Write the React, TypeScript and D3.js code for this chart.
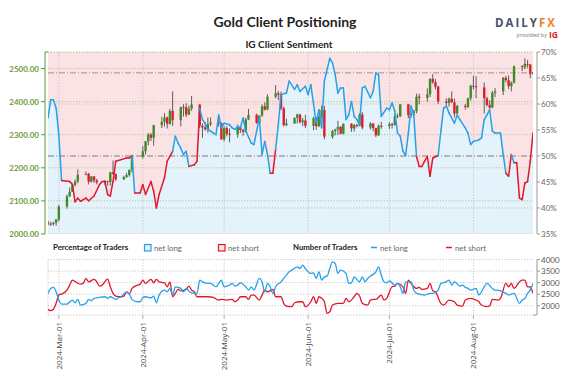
import React from 'react';
import * as d3 from 'd3';

const START = '2024-02-26';
const END = '2024-08-23';

// daily OHLC for spot gold
const candles: [string, number, number, number, number][] = [
  ['2024-02-26', 2035, 2041, 2025, 2031], ['2024-02-27', 2031, 2037, 2025, 2030],
  ['2024-02-28', 2030, 2037, 2025, 2034], ['2024-02-29', 2034, 2045, 2025, 2044],
  ['2024-03-01', 2044, 2088, 2038, 2083], ['2024-03-04', 2083, 2119, 2077, 2114],
  ['2024-03-05', 2114, 2141, 2112, 2128], ['2024-03-06', 2128, 2152, 2127, 2148],
  ['2024-03-07', 2148, 2165, 2144, 2159], ['2024-03-08', 2159, 2195, 2154, 2179],
  ['2024-03-11', 2179, 2189, 2177, 2182], ['2024-03-12', 2182, 2185, 2150, 2158],
  ['2024-03-13', 2158, 2175, 2156, 2174], ['2024-03-14', 2174, 2175, 2155, 2162],
  ['2024-03-15', 2162, 2167, 2150, 2156], ['2024-03-18', 2156, 2163, 2148, 2160],
  ['2024-03-19', 2160, 2161, 2146, 2157], ['2024-03-20', 2157, 2188, 2146, 2186],
  ['2024-03-21', 2186, 2222, 2180, 2181], ['2024-03-22', 2181, 2183, 2160, 2165],
  ['2024-03-25', 2165, 2176, 2164, 2172], ['2024-03-26', 2172, 2185, 2170, 2178],
  ['2024-03-27', 2178, 2195, 2173, 2194], ['2024-03-28', 2194, 2236, 2186, 2233],
  ['2024-04-01', 2233, 2266, 2228, 2250], ['2024-04-02', 2250, 2281, 2240, 2280],
  ['2024-04-03', 2280, 2305, 2268, 2300], ['2024-04-04', 2300, 2305, 2281, 2291],
  ['2024-04-05', 2291, 2330, 2267, 2329], ['2024-04-08', 2329, 2354, 2320, 2339],
  ['2024-04-09', 2339, 2365, 2325, 2352], ['2024-04-10', 2352, 2355, 2319, 2333],
  ['2024-04-11', 2333, 2378, 2330, 2372], ['2024-04-12', 2372, 2431, 2326, 2344],
  ['2024-04-15', 2344, 2385, 2325, 2383], ['2024-04-16', 2383, 2392, 2355, 2383],
  ['2024-04-17', 2383, 2395, 2353, 2361], ['2024-04-18', 2361, 2388, 2359, 2379],
  ['2024-04-19', 2379, 2417, 2372, 2391], ['2024-04-22', 2391, 2392, 2320, 2327],
  ['2024-04-23', 2327, 2335, 2291, 2322], ['2024-04-24', 2322, 2338, 2312, 2316],
  ['2024-04-25', 2316, 2352, 2306, 2332], ['2024-04-26', 2332, 2352, 2326, 2337],
  ['2024-04-29', 2337, 2354, 2324, 2335], ['2024-04-30', 2335, 2337, 2285, 2286],
  ['2024-05-01', 2286, 2326, 2280, 2320], ['2024-05-02', 2320, 2326, 2295, 2303],
  ['2024-05-03', 2303, 2319, 2277, 2301], ['2024-05-06', 2301, 2331, 2291, 2323],
  ['2024-05-07', 2323, 2326, 2305, 2314], ['2024-05-08', 2314, 2318, 2297, 2309],
  ['2024-05-09', 2309, 2351, 2306, 2346], ['2024-05-10', 2346, 2378, 2344, 2360],
  ['2024-05-13', 2360, 2364, 2333, 2336], ['2024-05-14', 2336, 2358, 2340, 2358],
  ['2024-05-15', 2358, 2392, 2354, 2386], ['2024-05-16', 2386, 2398, 2373, 2376],
  ['2024-05-17', 2376, 2422, 2374, 2415], ['2024-05-20', 2415, 2450, 2410, 2425],
  ['2024-05-21', 2425, 2432, 2405, 2421], ['2024-05-22', 2421, 2430, 2374, 2380],
  ['2024-05-23', 2380, 2385, 2325, 2329], ['2024-05-24', 2329, 2348, 2326, 2334],
  ['2024-05-27', 2334, 2352, 2333, 2351], ['2024-05-28', 2351, 2364, 2334, 2361],
  ['2024-05-29', 2361, 2363, 2334, 2338], ['2024-05-30', 2338, 2351, 2326, 2343],
  ['2024-05-31', 2343, 2360, 2320, 2327], ['2024-06-03', 2327, 2354, 2314, 2350],
  ['2024-06-04', 2350, 2353, 2315, 2326], ['2024-06-05', 2326, 2357, 2323, 2355],
  ['2024-06-06', 2355, 2388, 2350, 2375], ['2024-06-07', 2375, 2387, 2286, 2294],
  ['2024-06-10', 2294, 2315, 2288, 2311], ['2024-06-11', 2311, 2318, 2298, 2316],
  ['2024-06-12', 2316, 2342, 2299, 2324], ['2024-06-13', 2324, 2326, 2301, 2303],
  ['2024-06-14', 2303, 2334, 2301, 2333], ['2024-06-17', 2333, 2335, 2309, 2319],
  ['2024-06-18', 2319, 2333, 2310, 2329], ['2024-06-19', 2329, 2333, 2322, 2328],
  ['2024-06-20', 2328, 2365, 2325, 2361], ['2024-06-21', 2361, 2368, 2316, 2322],
  ['2024-06-24', 2322, 2338, 2316, 2334], ['2024-06-25', 2334, 2335, 2310, 2320],
  ['2024-06-26', 2320, 2321, 2293, 2298], ['2024-06-27', 2298, 2331, 2297, 2327],
  ['2024-06-28', 2327, 2339, 2318, 2326], ['2024-07-01', 2326, 2338, 2318, 2332],
  ['2024-07-02', 2332, 2336, 2319, 2330], ['2024-07-03', 2330, 2365, 2327, 2356],
  ['2024-07-04', 2356, 2364, 2350, 2356], ['2024-07-05', 2356, 2392, 2353, 2392],
  ['2024-07-08', 2392, 2393, 2350, 2359], ['2024-07-09', 2359, 2370, 2351, 2364],
  ['2024-07-10', 2364, 2376, 2356, 2371], ['2024-07-11', 2371, 2424, 2365, 2415],
  ['2024-07-12', 2415, 2424, 2392, 2411], ['2024-07-15', 2411, 2440, 2400, 2422],
  ['2024-07-16', 2422, 2470, 2414, 2469], ['2024-07-17', 2469, 2483, 2454, 2459],
  ['2024-07-18', 2459, 2468, 2437, 2445], ['2024-07-19', 2445, 2448, 2392, 2400],
  ['2024-07-22', 2400, 2410, 2384, 2396], ['2024-07-23', 2396, 2412, 2385, 2409],
  ['2024-07-24', 2409, 2431, 2396, 2398], ['2024-07-25', 2398, 2409, 2353, 2364],
  ['2024-07-26', 2364, 2390, 2364, 2387], ['2024-07-29', 2387, 2393, 2376, 2384],
  ['2024-07-30', 2384, 2412, 2380, 2410], ['2024-07-31', 2410, 2451, 2403, 2448],
  ['2024-08-01', 2448, 2478, 2437, 2446], ['2024-08-02', 2446, 2477, 2410, 2443],
  ['2024-08-05', 2443, 2458, 2364, 2410], ['2024-08-06', 2410, 2415, 2385, 2390],
  ['2024-08-07', 2390, 2404, 2375, 2382], ['2024-08-08', 2382, 2432, 2380, 2427],
  ['2024-08-09', 2427, 2441, 2414, 2431], ['2024-08-12', 2431, 2474, 2420, 2472],
  ['2024-08-13', 2472, 2478, 2458, 2465], ['2024-08-14', 2465, 2479, 2438, 2447],
  ['2024-08-15', 2447, 2461, 2431, 2457], ['2024-08-16', 2457, 2509, 2455, 2507],
  ['2024-08-19', 2507, 2510, 2492, 2504], ['2024-08-20', 2504, 2531, 2498, 2514],
  ['2024-08-21', 2514, 2526, 2502, 2512], ['2024-08-22', 2512, 2514, 2471, 2484],
  ['2024-08-23', 2484, 2490, 2481, 2487],
];

// [days since START, % of traders net long]
const pctLong: [number, number][] = [
  [0, 57.3], [1, 60.8], [2, 60.8], [3, 59.2], [4, 54.1], [5, 45.3], [8, 45.1], [9, 44.5], [10, 41.2],
  [11, 41.9], [12, 41.3], [14, 41.9], [15, 41.4], [17, 42.3], [19, 44.5], [20, 45.1], [21, 45.1],
  [22, 42.6], [23, 42.3], [24, 45.1], [25, 49.0], [27, 49.3], [29, 49.6], [30, 49.6], [31, 50.1],
  [32, 42.9], [34, 42.9], [35, 44.5], [36, 42.6], [38, 45.1], [39, 43.2], [40, 40.0], [41, 42.6],
  [43, 45.8], [44, 49.0], [46, 50.9], [47, 53.8], [48, 52.5], [49, 51.5], [50, 50.3], [51, 50.9],
  [52, 48.0], [54, 48.3], [55, 49.0], [56, 59.2], [57, 57.0], [58, 56.3], [59, 55.1], [60, 54.8],
  [61, 54.4], [62, 54.1], [63, 57.9], [64, 55.4], [65, 56.3], [67, 56.0], [68, 55.4], [69, 55.1],
  [70, 55.7], [71, 55.4], [72, 57.3], [73, 54.8], [75, 52.5], [76, 52.2], [77, 54.8], [78, 57.3],
  [79, 50.3], [80, 52.8], [81, 50.3], [82, 46.7], [83, 46.7], [84, 51.2], [85, 56.0], [86, 61.8],
  [88, 62.1], [89, 64.4], [91, 62.8], [92, 63.7], [93, 62.4], [95, 63.4], [96, 61.8], [97, 63.7],
  [99, 56.3], [100, 58.9], [101, 55.4], [102, 64.4], [104, 68.8], [105, 67.9], [106, 65.6],
  [107, 62.1], [108, 63.1], [109, 63.1], [110, 57.0], [111, 57.9], [112, 60.5], [113, 57.6],
  [114, 57.0], [115, 56.0], [116, 63.1], [117, 63.4], [119, 61.2], [120, 62.4], [121, 66.0],
  [122, 65.6], [123, 57.6], [125, 59.2], [126, 58.9], [127, 60.2], [128, 58.6], [129, 54.4],
  [130, 53.8], [131, 50.9], [132, 50.1], [133, 54.4], [134, 59.6], [135, 57.9], [136, 49.9],
  [137, 48.0], [138, 48.0], [139, 49.0], [140, 49.9], [141, 46.1], [142, 49.6], [144, 50.1],
  [145, 54.8], [146, 59.2], [147, 59.6], [148, 58.3], [150, 56.3], [151, 57.9], [152, 57.0],
  [154, 55.4], [155, 54.4], [156, 52.2], [157, 52.8], [159, 53.1], [160, 53.5], [161, 57.0],
  [162, 57.9], [163, 58.9], [164, 54.8], [165, 54.4], [167, 54.4], [168, 50.3], [169, 46.7],
  [170, 46.1], [171, 50.3], [172, 48.7], [173, 48.7], [174, 41.9], [175, 41.6], [176, 44.8],
  [177, 45.1], [178, 49.0], [179, 54.4],
];

// [days since START, number of traders net long]
const countLong: [number, number][] = [
  [0, 2535], [1, 2750], [2, 2793], [3, 2604], [4, 2246], [5, 2074], [7, 2074], [9, 2246], [10, 2130],
  [11, 2276], [12, 2031], [14, 2104], [15, 2276], [16, 2216], [17, 2320], [19, 2363], [21, 2390],
  [22, 2320], [23, 2390], [25, 2276], [26, 2345], [27, 2390], [28, 2505], [29, 2604], [30, 2505],
  [31, 2276], [33, 2173], [34, 2173], [35, 2345], [36, 2390], [38, 2345], [39, 2419], [40, 2130],
  [41, 2462], [43, 2677], [44, 2604], [45, 2750], [46, 2462], [47, 2820], [49, 2750], [50, 2604],
  [51, 2750], [52, 2634], [53, 2561], [55, 2535], [56, 3108], [57, 3035], [59, 2966], [60, 2966],
  [61, 2893], [62, 2820], [63, 2966], [64, 3108], [65, 2820], [67, 2893], [68, 2966], [69, 2850],
  [70, 2893], [71, 2992], [73, 2820], [74, 2677], [75, 2820], [76, 2677], [78, 3181], [79, 3035],
  [80, 2604], [81, 2966], [82, 2820], [83, 2535], [84, 2820], [86, 3035], [87, 3181], [88, 3323],
  [89, 3466], [90, 3539], [92, 3681], [93, 3612], [94, 3754], [95, 3612], [97, 3397], [98, 3422],
  [99, 3181], [100, 3466], [101, 3108], [102, 3250], [103, 3280], [104, 3612], [105, 3896],
  [106, 3827], [107, 3397], [108, 3539], [110, 3397], [111, 2966], [112, 2992], [113, 3250],
  [115, 3035], [116, 3250], [117, 3035], [118, 3181], [119, 3280], [121, 3466], [122, 3681],
  [123, 3323], [124, 3035], [125, 2992], [126, 3078], [128, 2893], [129, 2966], [130, 2820],
  [131, 2535], [132, 3035], [134, 3035], [135, 2677], [136, 2535], [137, 2505], [139, 2462],
  [140, 2505], [141, 2535], [142, 2535], [144, 2677], [145, 2966], [147, 3035], [148, 3108],
  [149, 2893], [150, 3035], [152, 2850], [153, 2893], [154, 2793], [155, 2750], [156, 2677],
  [158, 2750], [159, 2462], [160, 2604], [161, 2820], [162, 2966], [164, 2750], [165, 2677],
  [166, 2677], [167, 2647], [169, 2535], [170, 2462], [171, 2505], [172, 2535], [174, 2104],
  [175, 2246], [176, 2320], [177, 2535], [178, 2677], [179, 2966],
];

// [days since START, number of traders net short]
const countShort: [number, number][] = [
  [0, 1846], [1, 1785], [2, 1846], [3, 2104], [4, 2462], [5, 2505], [7, 2677], [8, 2893], [9, 3108],
  [11, 2966], [12, 2935], [13, 2966], [14, 3181], [15, 3035], [17, 3138], [18, 3035], [19, 2850],
  [20, 2893], [22, 3151], [23, 2820], [24, 2535], [25, 2419], [27, 2390], [28, 2419], [29, 2604],
  [30, 2505], [31, 2750], [33, 2893], [34, 2935], [35, 3108], [36, 2966], [38, 3138], [39, 2992],
  [40, 3138], [41, 3035], [43, 2992], [44, 2820], [45, 3035], [46, 2390], [47, 2535], [48, 2707],
  [49, 2647], [51, 2707], [52, 2850], [53, 2677], [54, 2604], [55, 2390], [57, 2390], [59, 2390],
  [61, 2363], [63, 2246], [64, 2276], [66, 2246], [68, 2276], [69, 2173], [70, 2246], [71, 2390],
  [73, 2390], [74, 2276], [75, 2462], [76, 2462], [78, 2246], [79, 2462], [80, 2677], [81, 2604],
  [83, 2707], [84, 2390], [86, 2390], [87, 2104], [88, 1988], [90, 1958], [91, 2130], [93, 2173],
  [94, 2173], [95, 1958], [97, 2173], [98, 2390], [99, 2104], [100, 2390], [101, 2320], [102, 2173],
  [103, 1673], [104, 1742], [105, 2031], [107, 2104], [109, 2104], [110, 2320], [111, 2173],
  [113, 2390], [114, 2535], [115, 2419], [116, 2104], [118, 2031], [119, 2246], [120, 2276],
  [121, 2276], [123, 2462], [124, 2246], [125, 2320], [127, 2820], [128, 2850], [129, 2966],
  [131, 2820], [132, 2535], [133, 3108], [134, 2966], [136, 2750], [137, 2793], [138, 2707],
  [140, 2750], [141, 2966], [142, 2647], [143, 2604], [145, 2104], [146, 2031], [148, 2246],
  [150, 2173], [151, 2031], [153, 1988], [154, 2246], [156, 2320], [158, 2246], [159, 2173],
  [160, 2031], [162, 1958], [163, 1988], [164, 2276], [166, 2246], [167, 2320], [169, 2966],
  [170, 2820], [171, 2966], [172, 2750], [174, 3035], [175, 3108], [176, 3108], [177, 2820],
  [178, 2820], [179, 2535],
];

const priceTicks = [2000, 2100, 2200, 2300, 2400, 2500];
const pctTicks = [35, 40, 45, 50, 55, 60, 65, 70];
const pctGrid = [40, 60];
const countTicks = [2000, 2500, 3000, 3500, 4000];
const monthTicks = ['2024-03-01', '2024-04-01', '2024-05-01', '2024-06-01', '2024-07-01', '2024-08-01'];

const BLUE = '#26a0e8';
const RED = '#e0182d';
const GREEN_AX = '#5f9a2f';

export default function App() {
  const parse = d3.timeParse('%Y-%m-%d');
  const start = parse(START) as Date;
  const end = parse(END) as Date;
  const dayDate = (d: number) => d3.timeDay.offset(start, d);
  const fmt = d3.timeFormat('%Y-%b-%d');

  const L = 48, R = 533, T = 52, B = 234;
  const BT = 259.5, BB = 315;

  const x = d3.scaleTime().domain([start, end]).range([L, R]);
  const yP = d3.scaleLinear().domain([2000, 2550]).range([B, T]);
  const yS = d3.scaleLinear().domain([35, 70]).range([B, T]);
  const yC = d3.scaleLinear().domain([1600, 4000]).range([BB, BT]);

  const areaBelow = d3.area<[number, number]>().x(d => x(dayDate(d[0]))).y0(B).y1(d => yS(d[1]));
  const areaAbove = d3.area<[number, number]>().x(d => x(dayDate(d[0]))).y0(T).y1(d => yS(d[1]));
  const seg = d3.line<[number, number]>().x(d => x(dayDate(d[0]))).y(d => yS(d[1]));
  const cLine = d3.line<[number, number]>().x(d => x(dayDate(d[0]))).y(d => yC(d[1])).curve(d3.curveMonotoneX);

  const lastClose = candles[candles.length - 1][4];
  const cw = 2.4;
  const dotted = '1.2,1.6';

  return (
    <svg width={588} height={377} style={{ display: 'block', fontFamily: 'Lato, "Open Sans", sans-serif' }}>
      <style>{`body{margin:0}`}</style>
      <defs>
        <clipPath id="clipTop"><rect x={L} y={T} width={R - L} height={B - T} /></clipPath>
        <clipPath id="clipBot"><rect x={L} y={BT - 1} width={R - L} height={BB - BT + 2} /></clipPath>
      </defs>
      <rect width={588} height={377} fill="#fff" />

      {/* Title */}
      <text x={285} y={27} textAnchor="middle" fontSize={14} fontWeight={700} fill="#222">Gold Client Positioning</text>
      <text x={289} y={48} textAnchor="middle" fontSize={10} fontWeight={700} fill="#222">IG Client Sentiment</text>

      {/* Logo */}
      <text x={526} y={27} textAnchor="middle" fontSize={11.5} fontWeight={700} letterSpacing={2} fontFamily="'Open Sans', sans-serif">
        <tspan fill="#4a5263">DAILY</tspan><tspan fill="#f5821f">FX</tspan>
      </text>
      <text x={547} y={37} textAnchor="end" fontSize={5.5} fill="#777" fontFamily="'Open Sans', sans-serif">provided by</text>
      <text x={549} y={38} fontSize={8.5} fontWeight={700} fill="#e31b23" fontFamily="'Open Sans', sans-serif">IG</text>

      {/* Top panel */}
      <g clipPath="url(#clipTop)">
        <path d={areaAbove(pctLong) || ''} fill="#fbe3e5" />
        <path d={areaBelow(pctLong) || ''} fill="#e3f2fb" />
        {monthTicks.map(m => (
          <line key={m} x1={x(parse(m) as Date)} x2={x(parse(m) as Date)} y1={T} y2={B} stroke="#c4c4c4" strokeDasharray={dotted} />
        ))}
        {priceTicks.map(p => (
          <line key={p} x1={L} x2={R} y1={yP(p)} y2={yP(p)} stroke="#b3c890" strokeDasharray={dotted} />
        ))}
        {pctGrid.map(p => (
          <line key={p} x1={L} x2={R} y1={yS(p)} y2={yS(p)} stroke="#c8c0b8" strokeDasharray={dotted} />
        ))}
        <line x1={L} x2={R} y1={yS(50)} y2={yS(50)} stroke="#7d7d7d" strokeDasharray="6,2,1,2" />
        <line x1={L} x2={R} y1={yP(lastClose)} y2={yP(lastClose)} stroke="#a69090" strokeDasharray="6,2,1,2" />
        {candles.map(c => {
          const cx = x(parse(c[0]) as Date);
          const up = c[4] >= c[1];
          const top = yP(Math.max(c[1], c[4]));
          const bot = yP(Math.min(c[1], c[4]));
          return (
            <g key={c[0]}>
              <line x1={cx} x2={cx} y1={yP(c[2])} y2={yP(c[3])} stroke="#3a3a3a" strokeWidth={0.8} />
              <rect x={cx - cw / 2} y={top} width={cw} height={Math.max(1, bot - top)} fill={up ? '#3f8c27' : '#dc1f2b'} />
            </g>
          );
        })}
        {pctLong.slice(0, -1).map((p, i) => (
          <path key={i} d={seg([p, pctLong[i + 1]]) || ''} fill="none" stroke={p[1] >= 50 ? BLUE : RED} strokeWidth={1.5} strokeLinecap="round" />
        ))}
      </g>
      <line x1={L} x2={R} y1={T} y2={T} stroke="#a9c080" strokeDasharray={dotted} />

      {/* Left axis */}
      <line x1={45} x2={45} y1={T} y2={B} stroke={GREEN_AX} strokeWidth={1} />
      <line x1={45} x2={48} y1={T} y2={T} stroke={GREEN_AX} />
      {priceTicks.map(p => (
        <g key={p}>
          <line x1={41} x2={45} y1={yP(p)} y2={yP(p)} stroke={GREEN_AX} />
          <text x={39} y={yP(p) + 3} textAnchor="end" fontSize={8} fontWeight={700} fill="#6a9c3a">{p.toFixed(2)}</text>
        </g>
      ))}

      {/* Right axis (top) */}
      <line x1={537} x2={537} y1={T} y2={B} stroke="#999" />
      {pctTicks.map(p => (
        <g key={p}>
          <line x1={537} x2={540} y1={yS(p)} y2={yS(p)} stroke="#999" />
          <text x={541} y={yS(p) + 3} fontSize={8} fill="#666">{p}%</text>
        </g>
      ))}

      {/* Legend */}
      <text x={53} y={250} fontSize={7.8} fontWeight={700} fill="#222">Percentage of Traders</text>
      <rect x={144.5} y={244.5} width={6.5} height={6.5} fill="#e3f2fb" stroke={BLUE} strokeWidth={1.2} />
      <text x={154} y={250.5} fontSize={7.8} fill="#666">net long</text>
      <rect x={218.5} y={244.5} width={6.5} height={6.5} fill="#fbe3e5" stroke={RED} strokeWidth={1.2} />
      <text x={228} y={250.5} fontSize={7.8} fill="#666">net short</text>
      <text x={293} y={250} fontSize={7.8} fontWeight={700} fill="#222">Number of Traders</text>
      <line x1={371} x2={377} y1={247.5} y2={247.5} stroke={BLUE} strokeWidth={1.5} />
      <text x={380} y={250.5} fontSize={7.8} fill="#666">net long</text>
      <line x1={446} x2={452} y1={247.5} y2={247.5} stroke={RED} strokeWidth={1.5} />
      <text x={455} y={250.5} fontSize={7.8} fill="#666">net short</text>

      {/* Bottom panel */}
      {countTicks.map(c => (
        <line key={c} x1={L} x2={R} y1={yC(c)} y2={yC(c)} stroke="#c8c8c8" strokeDasharray={dotted} />
      ))}
      <line x1={L} x2={R} y1={BB} y2={BB} stroke="#c8c8c8" strokeDasharray={dotted} />
      <line x1={L} x2={L} y1={BT} y2={BB} stroke="#c8c8c8" strokeDasharray={dotted} />
      {monthTicks.map(m => (
        <g key={m}>
          <line x1={x(parse(m) as Date)} x2={x(parse(m) as Date)} y1={BT} y2={BB} stroke="#c8c8c8" strokeDasharray={dotted} />
          <line x1={x(parse(m) as Date)} x2={x(parse(m) as Date)} y1={BB} y2={BB + 4} stroke="#aaa" />
          <text transform={`translate(${x(parse(m) as Date) + 3},${BB + 7}) rotate(-90)`} textAnchor="end" fontSize={8} fill="#444" fontFamily="'Open Sans', sans-serif">{fmt(parse(m) as Date)}</text>
        </g>
      ))}
      <g clipPath="url(#clipBot)">
        <path d={cLine(countShort) || ''} fill="none" stroke={RED} strokeWidth={1.3} />
        <path d={cLine(countLong) || ''} fill="none" stroke={BLUE} strokeWidth={1.3} />
      </g>
      <line x1={537} x2={537} y1={BT} y2={BB} stroke="#999" />
      <line x1={533} x2={537} y1={BB} y2={BB} stroke="#999" />
      {countTicks.map(c => (
        <g key={c}>
          <line x1={537} x2={540} y1={yC(c)} y2={yC(c)} stroke="#999" />
          <text x={541} y={yC(c) + 3} fontSize={8} fill="#555">{c}</text>
        </g>
      ))}
    </svg>
  );
}
